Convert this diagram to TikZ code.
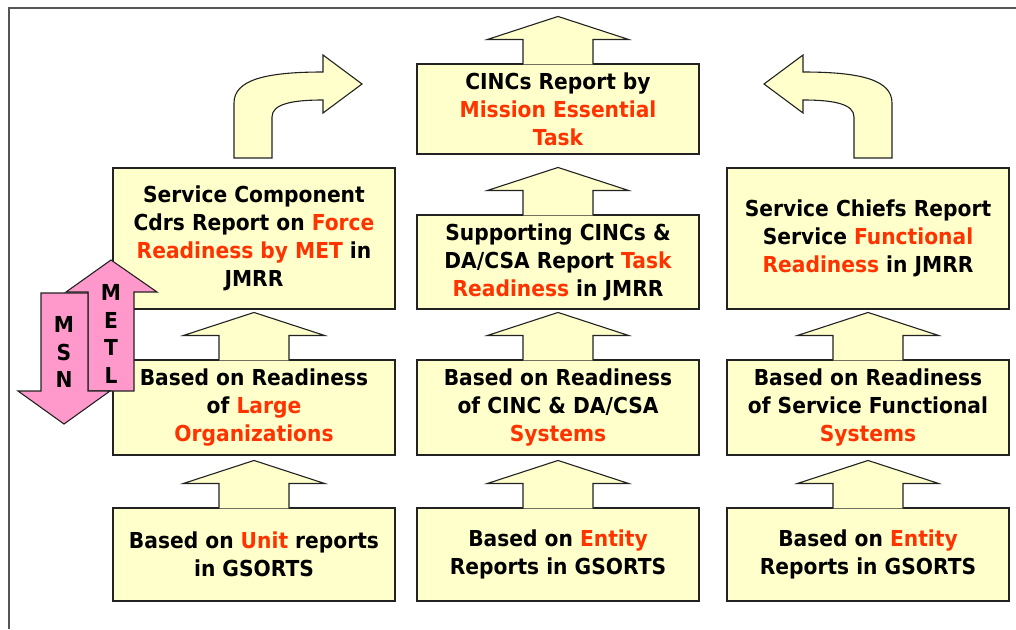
\documentclass[tikz,border=0pt]{standalone}
\usepackage{fontspec}
\setmainfont[FakeStretch=0.92]{DejaVu Sans}
\usetikzlibrary{calc}
\definecolor{boxfill}{HTML}{FFFFCC}
\definecolor{boxline}{HTML}{222222}
\definecolor{hired}{HTML}{FF3300}
\definecolor{pinkfill}{HTML}{FF99CC}
\definecolor{framegray}{HTML}{555555}
\newcommand{\hl}[1]{\textcolor{hired}{#1}}
% block arrow standing on the top edge of a box
\newcommand{\blockup}[1]{\draw[blockarrow] let \p1=(#1.north) in
  (\x1-35pt,\y1-1pt) -- (\x1-35pt,\y1+24pt) -- (\x1-70.5pt,\y1+24pt) -- (\x1,\y1+47pt)
  -- (\x1+70.5pt,\y1+24pt) -- (\x1+35pt,\y1+24pt) -- (\x1+35pt,\y1-1pt);}
\def\bentarrow{(234,158) -- (234,103) .. controls (234,80) and (265,72) .. (323,72)
  -- (323,55) -- (362,84) -- (323,113) -- (323,100) .. controls (292,100) and (272,104) .. (272,117)
  -- (272,158) -- cycle}

\begin{document}
\begin{tikzpicture}[x=1pt,y=-1pt,
	box/.style={draw=boxline, fill=boxfill, line width=1.1pt, minimum width=282pt, align=center, inner sep=0pt, font=\fontsize{22}{28}\selectfont\bfseries},
	blockarrow/.style={draw=boxline, fill=boxfill, line width=1.1pt},
	pinkarrow/.style={draw=boxline, fill=pinkfill, line width=1.1pt},
	letters/.style={align=center, inner sep=0pt, font=\fontsize{22}{27.5}\selectfont\bfseries}]
			%%%%% START %%%%%
			\useasboundingbox (0,0) rectangle (1016,629);
			\draw[framegray, line width=1.5pt] (1016,8) -- (9,8) -- (9,629);
			
			% left column
			\node[box, minimum height=141pt] (scc) at (254,238.5) {Service Component\\Cdrs Report on \hl{Force}\\\hl{Readiness by MET} in\\JMRR};
			\node[box, minimum height=95pt] (large) at (254,407.5) {Based on Readiness\\of \hl{Large}\\\hl{Organizations}};
			\node[box, minimum height=93pt] (unit) at (254,554.5) {Based on \hl{Unit} reports\\in GSORTS};
			
			% middle column
			\node[box, minimum height=90pt] (cincs) at (558,109) {CINCs Report by\\\hl{Mission Essential}\\\hl{Task}};
			\node[box, minimum height=94pt] (supp) at (558,262) {Supporting CINCs \&\\DA/CSA Report \hl{Task}\\\hl{Readiness} in JMRR};
			\node[box, minimum height=95pt] (cincsys) at (558,407.5) {Based on Readiness\\of CINC \& DA/CSA\\\hl{Systems}};
			\node[box, minimum height=93pt] (entitya) at (558,554.5) {Based on \hl{Entity}\\Reports in GSORTS};
			
			% right column
			\node[box, minimum height=141pt] (chiefs) at (868,238.5) {Service Chiefs Report\\Service \hl{Functional}\\\hl{Readiness} in JMRR};
			\node[box, minimum height=95pt] (funcsys) at (868,407.5) {Based on Readiness\\of Service Functional\\\hl{Systems}};
			\node[box, minimum height=93pt] (entityb) at (868,554.5) {Based on \hl{Entity}\\Reports in GSORTS};
			
			\blockup{unit}
			\blockup{large}
			\blockup{entitya}
			\blockup{cincsys}
			\blockup{supp}
			\blockup{cincs}
			\blockup{entityb}
			\blockup{funcsys}
			
			\draw[blockarrow] \bentarrow;
			\begin{scope}[shift={(1126,0)}, xscale=-1]
				\draw[blockarrow] \bentarrow;
			\end{scope}
			
			% METL up, MSN down
			\draw[pinkarrow] (88,391) -- (88,292) -- (66,292) -- (111,260) -- (157,292) -- (134,292) -- (134,391) -- cycle;
			\draw[pinkarrow] (41,293) -- (88,293) -- (88,391) -- (110,391) -- (64,424) -- (18,391) -- (41,391) -- cycle;
			\node[letters] (metl) at (111,334) {M\\E\\T\\L};
			\node[letters] (msn) at (64,352) {M\\S\\N};
			%%%%% END %%%%%
\end{tikzpicture}
\end{document}
